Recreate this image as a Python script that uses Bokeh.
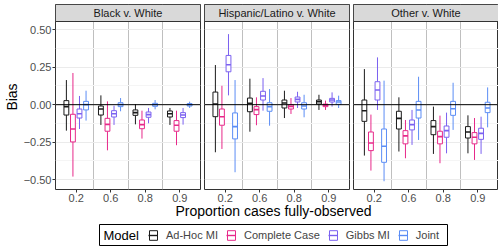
from bokeh.plotting import figure
from bokeh.models import (Range1d, FixedTicker, Span, BoxAnnotation, Label,
                          Legend, LegendItem, ColumnDataSource)
from bokeh.layouts import row, column
from bokeh.transform import dodge
from bokeh.embed import file_html
from bokeh.resources import INLINE

# ---------------- data ----------------
props = ["0.2", "0.6", "0.8", "0.9"]
models = ["Ad-Hoc MI", "Complete Case", "Gibbs MI", "Joint"]
panels = ["Black v. White", "Hispanic/Latino v. White", "Other v. White"]
y_ticks = [-0.5, -0.25, 0.0, 0.25, 0.5]
y_tick_labels = ["\u22120.50", "\u22120.25", "0.00", "0.25", "0.50"]
x_title = "Proportion cases fully-observed"
y_title = "Bias"
legend_title = "Model"

# each entry per proportion: (lower whisker, q1, median, q3, upper whisker)
black_adhoc = [(-0.173, -0.069, -0.013, 0.027, 0.164), (-0.135, -0.069, -0.029, -0.009, 0.062),
               (-0.131, -0.071, -0.053, -0.035, 0.004), (-0.135, -0.082, -0.060, -0.042, -0.022)]
black_cc = [(-0.479, -0.248, -0.162, -0.064, 0.211), (-0.304, -0.177, -0.131, -0.091, 0.022),
            (-0.226, -0.160, -0.133, -0.102, -0.040), (-0.270, -0.177, -0.137, -0.106, -0.040)]
black_gibbs = [(-0.162, -0.089, -0.060, -0.029, 0.058), (-0.135, -0.082, -0.060, -0.040, -0.007),
               (-0.124, -0.084, -0.066, -0.049, -0.022), (-0.133, -0.086, -0.069, -0.053, -0.022)]
black_joint = [(-0.106, -0.035, 0.000, 0.022, 0.093), (-0.044, -0.013, 0.000, 0.013, 0.044),
               (-0.031, -0.011, 0.000, 0.009, 0.031), (-0.022, -0.009, 0.000, 0.007, 0.020)]

hisp_adhoc = [(-0.317, -0.080, 0.004, 0.084, 0.264), (-0.180, -0.047, 0.009, 0.044, 0.173),
              (-0.089, -0.022, 0.011, 0.031, 0.093), (-0.035, 0.004, 0.020, 0.031, 0.066)]
hisp_cc = [(-0.295, -0.137, -0.080, -0.029, 0.126), (-0.137, -0.066, -0.033, -0.013, 0.049),
           (-0.062, -0.029, -0.011, 0.000, 0.044), (-0.035, -0.013, -0.004, 0.004, 0.027)]
hisp_gibbs = [(0.062, 0.219, 0.266, 0.328, 0.470), (-0.040, 0.031, 0.058, 0.089, 0.177),
              (-0.022, 0.018, 0.035, 0.051, 0.086), (-0.013, 0.018, 0.031, 0.042, 0.082)]
hisp_joint = [(-0.450, -0.228, -0.146, -0.055, 0.164), (-0.140, -0.044, -0.013, 0.013, 0.104),
              (-0.084, -0.029, -0.009, 0.013, 0.066), (-0.022, 0.002, 0.018, 0.027, 0.060)]

other_adhoc = [(-0.339, -0.111, -0.040, 0.031, 0.237), (-0.312, -0.162, -0.091, -0.044, 0.049),
               (-0.328, -0.200, -0.146, -0.106, -0.013), (-0.324, -0.222, -0.182, -0.146, -0.071)]
other_cc = [(-0.439, -0.306, -0.255, -0.182, -0.066), (-0.357, -0.261, -0.208, -0.173, -0.102),
            (-0.390, -0.261, -0.213, -0.177, -0.073), (-0.368, -0.261, -0.217, -0.186, -0.089)]
other_gibbs = [(-0.035, 0.031, 0.098, 0.153, 0.315), (-0.268, -0.168, -0.133, -0.102, -0.035),
               (-0.324, -0.217, -0.173, -0.142, -0.053), (-0.328, -0.231, -0.191, -0.157, -0.080)]
other_joint = [(-0.510, -0.384, -0.277, -0.162, 0.160), (-0.235, -0.089, -0.035, 0.022, 0.186),
               (-0.168, -0.071, -0.027, 0.022, 0.146), (-0.151, -0.053, -0.022, 0.016, 0.115)]

panel_data = [
    [black_adhoc, black_cc, black_gibbs, black_joint],
    [hisp_adhoc, hisp_cc, hisp_gibbs, hisp_joint],
    [other_adhoc, other_cc, other_gibbs, other_joint],
]

# ---------------- style ----------------
colors = ["#1A1A1A", "#E7298A", "#7B61F0", "#5B8DF5"]
offsets = [-0.285, -0.095, 0.095, 0.285]
BOX_W = 0.14
FONT = "Liberation Sans"
LEFT_B = 54
GAP = 2
FW, FH = 145, 185
TOP_B = 4
STRIP_PX = 17
X_LO, X_HI = 0.4, len(props) + 0.6
Y_LO, Y_HI = -0.565, 0.554
Y_TOP = Y_HI + STRIP_PX * (Y_HI - Y_LO) / (FH - STRIP_PX)

xpos = list(range(1, len(props) + 1))
seps = [x + 0.5 for x in xpos[:-1]]


def make_panel(i):
    first = i == 0
    last = i == len(panels) - 1
    p = figure(frame_width=FW, frame_height=FH,
               x_range=Range1d(X_LO, X_HI), y_range=Range1d(Y_LO, Y_TOP),
               output_backend="svg", toolbar_location=None,
               y_axis_location="left" if first else None,
               min_border_left=LEFT_B if first else GAP,
               min_border_right=0 if last else GAP,
               min_border_top=TOP_B, min_border_bottom=0)
    p.background_fill_color = "white"
    p.border_fill_color = "white"
    p.outline_line_color = "#333333"
    p.outline_line_width = 1

    p.ygrid.ticker = FixedTicker(ticks=y_ticks,
                                 minor_ticks=[(a + b) / 2 for a, b in zip(y_ticks[:-1], y_ticks[1:])])
    p.ygrid.grid_line_color = "#EBEBEB"
    p.ygrid.minor_grid_line_color = "#F5F5F5"
    p.xgrid.ticker = FixedTicker(ticks=seps)
    p.xgrid.grid_line_color = "#BFBFBF"
    p.xgrid.grid_line_width = 1

    xa = p.xaxis[0]
    xa.ticker = FixedTicker(ticks=xpos)
    xa.major_label_overrides = {x: lab for x, lab in zip(xpos, props)}
    xa.axis_line_color = None
    xa.major_tick_line_color = "#333333"
    xa.major_tick_out = 3
    xa.major_tick_in = 0
    xa.minor_tick_line_color = None
    xa.major_label_text_font_size = "11px"
    xa.major_label_text_color = "#4D4D4D"
    xa.major_label_text_font = FONT
    xa.major_label_standoff = 1

    if first:
        ya = p.yaxis[0]
        ya.ticker = FixedTicker(ticks=y_ticks)
        ya.major_label_overrides = {t: lab for t, lab in zip(y_ticks, y_tick_labels)}
        ya.axis_line_color = None
        ya.major_tick_line_color = "#333333"
        ya.major_tick_out = 3
        ya.major_tick_in = 0
        ya.minor_tick_line_color = None
        ya.major_label_text_font_size = "11px"
        ya.major_label_text_color = "#4D4D4D"
        ya.major_label_text_font = FONT
        ya.major_label_standoff = 1
        ya.axis_label = y_title
        ya.axis_label_text_font_size = "14px"
        ya.axis_label_text_font_style = "normal"
        ya.axis_label_text_font = FONT
        ya.axis_label_text_color = "black"
        ya.axis_label_standoff = 1

    for m, (color, stats) in enumerate(zip(colors, panel_data[i])):
        src = ColumnDataSource(dict(
            x=xpos,
            lo=[s[0] for s in stats], q1=[s[1] for s in stats], med=[s[2] for s in stats],
            q3=[s[3] for s in stats], hi=[s[4] for s in stats]))
        off = offsets[m]
        p.segment(x0=dodge("x", off), x1=dodge("x", off), y0="q3", y1="hi",
                  source=src, line_color=color, line_width=1)
        p.segment(x0=dodge("x", off), x1=dodge("x", off), y0="lo", y1="q1",
                  source=src, line_color=color, line_width=1)
        p.vbar(x=dodge("x", off), width=BOX_W, top="q3", bottom="q1", source=src,
               fill_color="white", line_color=color, line_width=1)
        p.segment(x0=dodge("x", off - BOX_W / 2), x1=dodge("x", off + BOX_W / 2),
                  y0="med", y1="med", source=src, line_color=color, line_width=1.6)

    p.add_layout(Span(location=0, dimension="width", line_color="black", line_width=1))

    # facet strip
    p.add_layout(BoxAnnotation(left=X_LO, right=X_HI, bottom=Y_HI, top=Y_TOP,
                               fill_color="#D9D9D9", fill_alpha=1,
                               line_color="#333333", line_width=1, line_alpha=1))
    p.add_layout(Label(x=(X_LO + X_HI) / 2, y=(Y_HI + Y_TOP) / 2, text=panels[i],
                       text_align="center", text_baseline="middle",
                       text_font_size="11px", text_color="#1A1A1A", text_font=FONT))
    return p


figs = [make_panel(i) for i in range(len(panels))]

# ---------------- bottom: shared x title + legend ----------------
W_B = LEFT_B + 3 * FW + 4 * GAP
H_B = 43
TITLE_X = 273
LEG_L, LEG_R = 99, 447
bot = figure(width=W_B, height=H_B, output_backend="svg", toolbar_location=None,
             x_range=Range1d(0, W_B), y_range=Range1d(0, H_B),
             x_axis_location=None, y_axis_location=None, min_border=0)
bot.outline_line_color = None
bot.xgrid.visible = False
bot.ygrid.visible = False
bot.background_fill_color = "white"
bot.border_fill_color = "white"

bot.add_layout(Label(x=TITLE_X, y=H_B - 6, text=x_title, text_align="center",
                     text_baseline="middle", text_font_size="14px", text_color="black",
                     text_font=FONT))

bot.add_layout(BoxAnnotation(left=LEG_L, right=LEG_R, bottom=2, top=23,
                             fill_color="white", fill_alpha=1,
                             line_color="black", line_width=1, line_alpha=1))
bot.add_layout(Label(x=LEG_L + 4, y=12.5, text=legend_title, text_align="left",
                     text_baseline="middle", text_font_size="13px", text_color="black",
                     text_font=FONT))

nan = float("nan")
items = []
for model, color in zip(models, colors):
    r1 = bot.vbar(x=[nan], width=0.1, top=[nan], bottom=[nan], fill_color="white",
                  line_color=color, line_width=1)
    r2 = bot.segment(x0=[nan], x1=[nan], y0=[nan], y1=[nan], line_color=color, line_width=1.4)
    items.append(LegendItem(label=model, renderers=[r1, r2]))
legend = Legend(items=items, orientation="horizontal",
                location=(LEG_L + 49, 6),
                label_text_font_size="11px", label_text_font=FONT, label_standoff=8,
                label_height=12, glyph_width=10, glyph_height=12, spacing=8,
                padding=0, margin=0, border_line_color=None,
                background_fill_alpha=0)
bot.add_layout(legend)

layout = column(row(*figs), bot)
open("out.html", "w").write(file_html(layout, INLINE))
